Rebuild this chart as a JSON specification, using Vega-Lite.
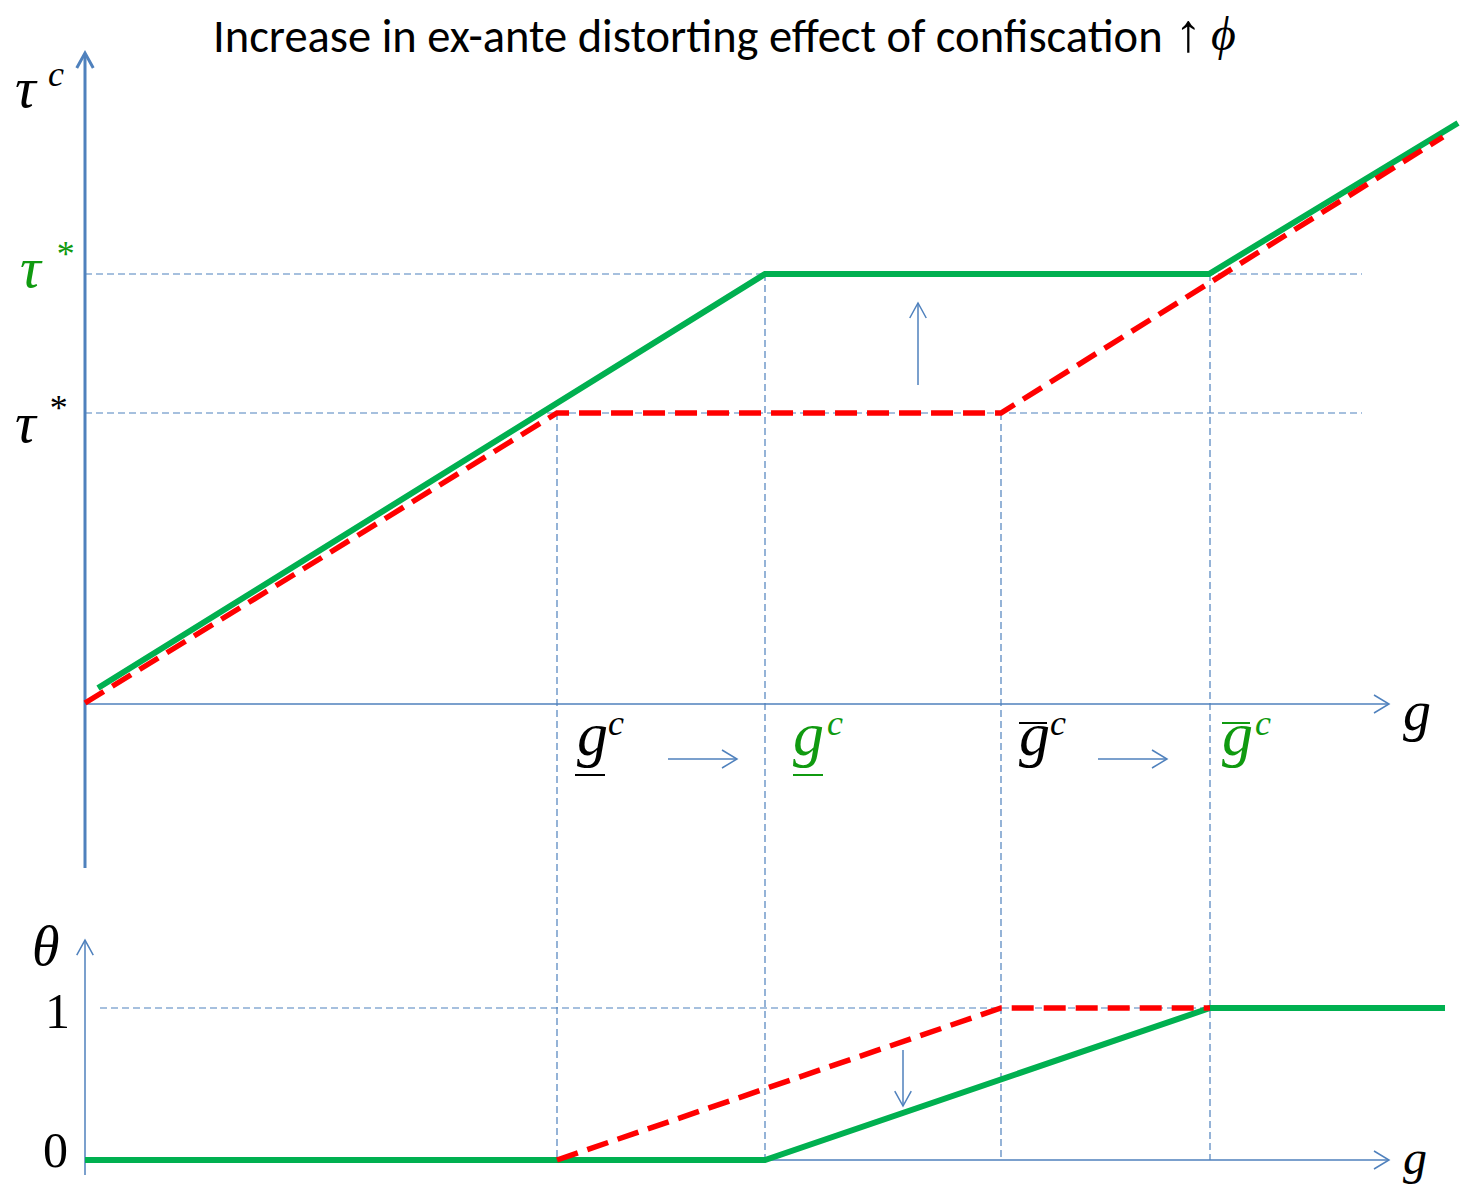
{
  "$schema": "https://vega.github.io/schema/vega-lite/v6.json",
  "width": 1462,
  "height": 1190,
  "autosize": {"type": "none"},
  "padding": 0,
  "background": "#ffffff",
  "config": {"view": {"stroke": null}},
  "datasets": {
    "tauCurves": [
      {"g": 0.13, "tau": 0.16, "scenario": "shift"},
      {"g": 6.80, "tau": 4.30, "scenario": "shift"},
      {"g": 11.24, "tau": 4.30, "scenario": "shift"},
      {"g": 13.73, "tau": 5.81, "scenario": "shift"},
      {"g": 0.00, "tau": 0.01, "scenario": "base"},
      {"g": 4.72, "tau": 2.91, "scenario": "base"},
      {"g": 9.16, "tau": 2.91, "scenario": "base"},
      {"g": 13.58, "tau": 5.67, "scenario": "base"}
    ],
    "thetaCurves": [
      {"g": 0, "theta": 0, "scenario": "shift"},
      {"g": 6.80, "theta": 0, "scenario": "shift"},
      {"g": 11.25, "theta": 1, "scenario": "shift"},
      {"g": 13.60, "theta": 1, "scenario": "shift"},
      {"g": 4.72, "theta": 0, "scenario": "base"},
      {"g": 9.16, "theta": 1, "scenario": "base"},
      {"g": 11.25, "theta": 1, "scenario": "base"}
    ],
    "tauGuides": [
      {"g": 0, "g2": 12.77, "tau": 4.30, "tau2": 4.30},
      {"g": 0, "g2": 12.77, "tau": 2.91, "tau2": 2.91},
      {"g": 4.72, "g2": 4.72, "tau": 2.91, "tau2": -4.56},
      {"g": 6.80, "g2": 6.80, "tau": 4.30, "tau2": -4.56},
      {"g": 9.16, "g2": 9.16, "tau": 2.91, "tau2": -4.56},
      {"g": 11.25, "g2": 11.25, "tau": 4.30, "tau2": -4.56}
    ],
    "tauAxes": [
      {"g": 0, "g2": 0, "tau": -1.64, "tau2": 6.50, "part": "tau axis"},
      {"g": 0, "g2": 13.04, "tau": 0, "tau2": 0, "part": "g axis"},
      {"g": 8.33, "g2": 8.33, "tau": 3.19, "tau2": 4.01, "part": "shift arrow"},
      {"g": 5.83, "g2": 6.52, "tau": -0.55, "tau2": -0.55, "part": "shift arrow"},
      {"g": 10.13, "g2": 10.82, "tau": -0.55, "tau2": -0.55, "part": "shift arrow"}
    ],
    "tauHeads": [
      {"g": 0, "tau": 6.51, "dir": "up", "part": "tau axis"},
      {"g": 13.04, "tau": 0, "dir": "right", "part": "g axis"},
      {"g": 8.33, "tau": 4.01, "dir": "up", "part": "shift arrow"},
      {"g": 6.52, "tau": -0.55, "dir": "right", "part": "shift arrow"},
      {"g": 10.82, "tau": -0.55, "dir": "right", "part": "shift arrow"}
    ],
    "tauSymbols": [
      {"g": -0.70, "tau": 5.97, "text": "τ", "scenario": "base"},
      {"g": -0.70, "tau": 2.62, "text": "τ", "scenario": "base"},
      {"g": -0.65, "tau": 4.17, "text": "τ", "scenario": "shift"}
    ],
    "tauSupers": [
      {"g": -0.37, "tau": 6.18, "text": "c", "scenario": "base"},
      {"g": -0.37, "tau": 2.84, "text": "*", "scenario": "base"},
      {"g": -0.30, "tau": 4.38, "text": "*", "scenario": "shift"},
      {"g": 5.23, "tau": -0.31, "text": "c", "scenario": "base"},
      {"g": 7.42, "tau": -0.31, "text": "c", "scenario": "shift"},
      {"g": 9.65, "tau": -0.31, "text": "c", "scenario": "base"},
      {"g": 11.70, "tau": -0.31, "text": "c", "scenario": "shift"}
    ],
    "gSymbols": [
      {"g": 4.92, "tau": -0.51, "text": "g", "scenario": "base"},
      {"g": 7.08, "tau": -0.51, "text": "g", "scenario": "shift"},
      {"g": 9.34, "tau": -0.51, "text": "g", "scenario": "base"},
      {"g": 11.37, "tau": -0.51, "text": "g", "scenario": "shift"}
    ],
    "gBars": [
      {"g": 4.90, "g2": 5.20, "tau": -0.71, "scenario": "base"},
      {"g": 7.08, "g2": 7.38, "tau": -0.71, "scenario": "shift"},
      {"g": 9.34, "g2": 9.62, "tau": -0.19, "scenario": "base"},
      {"g": 11.37, "g2": 11.65, "tau": -0.19, "scenario": "shift"}
    ],
    "tauAxisName": [
      {"g": 13.18, "tau": -0.26, "text": "g"}
    ],
    "titleText": [
      {"g": 1.28, "tau": 6.52, "text": "Increase in ex-ante distorting effect of confiscation"}
    ],
    "titleArrow": [
      {"g": 10.90, "tau": 6.53, "text": "↑"}
    ],
    "titleMath": [
      {"g": 11.26, "tau": 6.54, "text": "ϕ"}
    ],
    "thetaGuides": [
      {"g": 0.15, "g2": 12.77, "theta": 1, "theta2": 1}
    ],
    "thetaAxes": [
      {"g": 0, "g2": 0, "theta": -0.099, "theta2": 1.447},
      {"g": 0, "g2": 13.04, "theta": 0, "theta2": 0},
      {"g": 8.18, "g2": 8.18, "theta": 0.724, "theta2": 0.355}
    ],
    "thetaHeads": [
      {"g": 0, "theta": 1.447, "dir": "up"},
      {"g": 13.04, "theta": 0, "dir": "right"},
      {"g": 8.18, "theta": 0.355, "dir": "down"}
    ],
    "thetaItalic": [
      {"g": -0.53, "theta": 1.283, "text": "θ", "size": "big"},
      {"g": 13.18, "theta": -0.092, "text": "g", "size": "small"}
    ],
    "thetaDigits": [
      {"g": -0.15, "theta": 0.868, "text": "1"},
      {"g": -0.17, "theta": -0.046, "text": "0"}
    ]
  },
  "layer": [
    {
      "encoding": {
        "x": {"field": "g", "type": "quantitative", "scale": {"domain": [-0.85, 13.77], "nice": false, "zero": false}, "axis": null},
        "y": {"field": "tau", "type": "quantitative", "scale": {"domain": [-4.86, 7.04], "nice": false, "zero": false}, "axis": null}
      },
      "layer": [
        {
          "data": {"name": "tauGuides"},
          "mark": {"type": "rule", "color": "#4F81BD", "strokeWidth": 1.2, "strokeDash": [7, 4]},
          "encoding": {"x2": {"field": "g2"}, "y2": {"field": "tau2"}}
        },
        {
          "data": {"name": "tauAxes"},
          "transform": [{"filter": "datum.part === 'tau axis'"}],
          "mark": {"type": "rule", "color": "#4F81BD", "strokeWidth": 3},
          "encoding": {"x2": {"field": "g2"}, "y2": {"field": "tau2"}}
        },
        {
          "data": {"name": "tauAxes"},
          "transform": [{"filter": "datum.part !== 'tau axis'"}],
          "mark": {"type": "rule", "color": "#4F81BD", "strokeWidth": 1.5},
          "encoding": {"x2": {"field": "g2"}, "y2": {"field": "tau2"}}
        },
        {
          "data": {"name": "tauHeads"},
          "transform": [{"filter": "datum.part === 'tau axis'"}],
          "mark": {"type": "point", "shape": "M-0.55,1L0,0L0.55,1", "size": 900, "filled": false, "stroke": "#4F81BD", "strokeWidth": 3, "opacity": 1}
        },
        {
          "data": {"name": "tauHeads"},
          "transform": [{"filter": "datum.part !== 'tau axis' && datum.dir === 'up'"}],
          "mark": {"type": "point", "shape": "M-0.55,1L0,0L0.55,1", "size": 900, "filled": false, "stroke": "#4F81BD", "strokeWidth": 1.5, "opacity": 1}
        },
        {
          "data": {"name": "tauHeads"},
          "transform": [{"filter": "datum.dir === 'right'"}],
          "mark": {"type": "point", "shape": "M-0.6,1L0,0L0.6,1", "size": 900, "angle": 90, "filled": false, "stroke": "#4F81BD", "strokeWidth": 1.5, "opacity": 1}
        },
        {
          "data": {"name": "tauCurves"},
          "transform": [{"filter": "datum.scenario === 'shift'"}],
          "mark": {"type": "line", "color": "#00B050", "strokeWidth": 6, "strokeCap": "butt"}
        },
        {
          "data": {"name": "tauCurves"},
          "transform": [{"filter": "datum.scenario === 'base'"}],
          "mark": {"type": "line", "color": "#FF0000", "strokeWidth": 5.5, "strokeDash": [22, 10], "strokeCap": "butt"}
        },
        {
          "data": {"name": "gBars"},
          "mark": {"type": "rule", "strokeWidth": 2},
          "encoding": {
            "x2": {"field": "g2"},
            "color": {"field": "scenario", "type": "nominal", "scale": {"domain": ["base", "shift"], "range": ["#000000", "#109A10"]}, "legend": null}
          }
        },
        {
          "data": {"name": "tauSymbols"},
          "mark": {"type": "text", "font": "Liberation Serif", "fontStyle": "italic", "fontSize": 58, "align": "left", "baseline": "alphabetic"},
          "encoding": {
            "text": {"field": "text"},
            "color": {"field": "scenario", "type": "nominal", "scale": {"domain": ["base", "shift"], "range": ["#000000", "#109A10"]}, "legend": null}
          }
        },
        {
          "data": {"name": "tauSupers"},
          "mark": {"type": "text", "font": "Liberation Serif", "fontStyle": "italic", "fontSize": 36, "align": "left", "baseline": "alphabetic"},
          "encoding": {
            "text": {"field": "text"},
            "color": {"field": "scenario", "type": "nominal", "scale": {"domain": ["base", "shift"], "range": ["#000000", "#109A10"]}, "legend": null}
          }
        },
        {
          "data": {"name": "gSymbols"},
          "mark": {"type": "text", "font": "Liberation Serif", "fontStyle": "italic", "fontSize": 62, "align": "left", "baseline": "alphabetic"},
          "encoding": {
            "text": {"field": "text"},
            "color": {"field": "scenario", "type": "nominal", "scale": {"domain": ["base", "shift"], "range": ["#000000", "#109A10"]}, "legend": null}
          }
        },
        {
          "data": {"name": "tauAxisName"},
          "mark": {"type": "text", "font": "Liberation Serif", "fontStyle": "italic", "fontSize": 56, "align": "left", "baseline": "alphabetic", "color": "#000000"},
          "encoding": {"text": {"field": "text"}}
        },
        {
          "data": {"name": "titleText"},
          "mark": {"type": "text", "font": "Carlito, Lato, sans-serif", "fontSize": 46.5, "align": "left", "baseline": "alphabetic", "color": "#000000"},
          "encoding": {"text": {"field": "text"}}
        },
        {
          "data": {"name": "titleArrow"},
          "mark": {"type": "text", "font": "Liberation Serif", "fontSize": 54, "align": "left", "baseline": "alphabetic", "color": "#000000"},
          "encoding": {"text": {"field": "text"}}
        },
        {
          "data": {"name": "titleMath"},
          "mark": {"type": "text", "font": "Liberation Serif, DejaVu Serif", "fontStyle": "italic", "fontSize": 48, "align": "left", "baseline": "alphabetic", "color": "#000000"},
          "encoding": {"text": {"field": "text"}}
        }
      ]
    },
    {
      "encoding": {
        "x": {"field": "g", "type": "quantitative", "scale": {"domain": [-0.85, 13.77], "nice": false, "zero": false}, "axis": null},
        "y": {"field": "theta", "type": "quantitative", "scale": {"domain": [-0.1974, 7.6316], "nice": false, "zero": false}, "axis": null}
      },
      "layer": [
        {
          "data": {"name": "thetaGuides"},
          "mark": {"type": "rule", "color": "#4F81BD", "strokeWidth": 1.2, "strokeDash": [7, 4]},
          "encoding": {"x2": {"field": "g2"}, "y2": {"field": "theta2"}}
        },
        {
          "data": {"name": "thetaAxes"},
          "mark": {"type": "rule", "color": "#4F81BD", "strokeWidth": 1.5},
          "encoding": {"x2": {"field": "g2"}, "y2": {"field": "theta2"}}
        },
        {
          "data": {"name": "thetaHeads"},
          "transform": [{"filter": "datum.dir === 'up'"}],
          "mark": {"type": "point", "shape": "M-0.55,1L0,0L0.55,1", "size": 900, "filled": false, "stroke": "#4F81BD", "strokeWidth": 1.5, "opacity": 1}
        },
        {
          "data": {"name": "thetaHeads"},
          "transform": [{"filter": "datum.dir === 'right'"}],
          "mark": {"type": "point", "shape": "M-0.6,1L0,0L0.6,1", "size": 900, "angle": 90, "filled": false, "stroke": "#4F81BD", "strokeWidth": 1.5, "opacity": 1}
        },
        {
          "data": {"name": "thetaHeads"},
          "transform": [{"filter": "datum.dir === 'down'"}],
          "mark": {"type": "point", "shape": "M-0.55,1L0,0L0.55,1", "size": 900, "angle": 180, "filled": false, "stroke": "#4F81BD", "strokeWidth": 1.5, "opacity": 1}
        },
        {
          "data": {"name": "thetaCurves"},
          "transform": [{"filter": "datum.scenario === 'shift'"}],
          "mark": {"type": "line", "color": "#00B050", "strokeWidth": 6, "strokeCap": "butt"}
        },
        {
          "data": {"name": "thetaCurves"},
          "transform": [{"filter": "datum.scenario === 'base'"}],
          "mark": {"type": "line", "color": "#FF0000", "strokeWidth": 5.5, "strokeDash": [22, 10], "strokeCap": "butt"}
        },
        {
          "data": {"name": "thetaItalic"},
          "transform": [{"filter": "datum.size === 'big'"}],
          "mark": {"type": "text", "font": "Liberation Serif", "fontStyle": "italic", "fontSize": 56, "align": "left", "baseline": "alphabetic", "color": "#000000"},
          "encoding": {"text": {"field": "text"}}
        },
        {
          "data": {"name": "thetaItalic"},
          "transform": [{"filter": "datum.size === 'small'"}],
          "mark": {"type": "text", "font": "Liberation Serif", "fontStyle": "italic", "fontSize": 48, "align": "left", "baseline": "alphabetic", "color": "#000000"},
          "encoding": {"text": {"field": "text"}}
        },
        {
          "data": {"name": "thetaDigits"},
          "mark": {"type": "text", "font": "Liberation Serif", "fontSize": 50, "align": "right", "baseline": "alphabetic", "color": "#000000"},
          "encoding": {"text": {"field": "text"}}
        }
      ]
    }
  ],
  "resolve": {"scale": {"y": "independent"}}
}
